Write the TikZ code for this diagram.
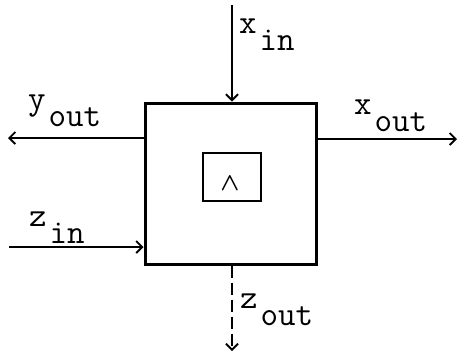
\documentclass[tikz,border=0pt]{standalone}
\usetikzlibrary{positioning, arrows.meta}
\newcommand{\sig}[2]{#1\kern3pt\raisebox{-17pt}{#2}}
\tikzset{
  block/.style={draw, line width=3pt, minimum width=171pt, minimum height=161pt,
                inner sep=0pt},
  flow/.style={-{Straight Barb[length=6pt, width=12pt, line width=1.8pt]}, line width=1.6pt},
  lbl/.style={anchor=base west, inner sep=0pt, font=\fontsize{34}{36}\ttfamily},
}

\begin{document}
\begin{tikzpicture}[x=1pt, y=-1pt]
  \useasboundingbox (0,0) rectangle (459,354);

  \node[block] (blk) at (230.5,183.5) {};
  \node[draw, line width=2.4pt, minimum width=58pt, minimum height=48pt,
        inner sep=0pt] (cmp) at (232,177) {};
  \node[inner sep=0pt, font=\fontsize{30}{30}\selectfont\boldmath] (op) at (230,184) {$\wedge$};

  \coordinate (xin) at (232,5);
  \coordinate (yout) at (8,138);
  \coordinate (zin) at (9,247);
  \coordinate (xout) at (457,139);
  \coordinate (zout) at (232,351);

  \draw[flow] (xin) -- (xin |- blk.north);
  \draw[flow] (blk.west |- yout) -- (yout);
  \draw[flow] (zin) -- (blk.west |- zin);
  \draw[flow] (blk.east |- xout) -- (xout);
  \draw[flow, dash pattern=on 12pt off 5pt] (zout |- blk.south) -- (zout);

  \node[lbl] (lxin) at (239,33) {\sig{x}{in}};
  \node[lbl] (lyout) at (28,109) {\sig{y}{out}};
  \node[lbl] (lzin) at (29,226) {\sig{z}{in}};
  \node[lbl] (lxout) at (354,114) {\sig{x}{out}};
  \node[lbl] (lzout) at (240,308) {\sig{z}{out}};
\end{tikzpicture}
\end{document}
